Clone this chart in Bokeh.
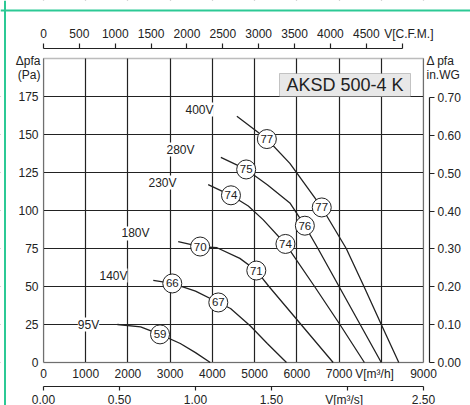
from bokeh.plotting import figure
from bokeh.models import (Range1d, LinearAxis, FixedTicker, NumeralTickFormatter,
                          BoxAnnotation, Label, LabelSet, ColumnDataSource, Span)
from bokeh.core.properties import value
from bokeh.embed import file_html
from bokeh.resources import INLINE

FONT = "Liberation Sans"
INK = "#222222"
GREEN = "#2cc995"
NB = "\u00a0"

# ---------------- data ----------------
flow_ticks = [0, 1000, 2000, 3000, 4000, 5000, 6000, 7000, 8000, 9000]      # m3/h
pressure_ticks = [0, 25, 50, 75, 100, 125, 150, 175]                          # Pa
cfm_ticks = [0, 500, 1000, 1500, 2000, 2500, 3000, 3500, 4000, 4500, 5000]    # C.F.M.
inwg_ticks = [0.0, 0.1, 0.2, 0.3, 0.4, 0.5, 0.6, 0.7]                         # in.WG
m3s_ticks = [0.0, 0.5, 1.0, 1.5, 2.0, 2.5]                                    # m3/s

curve_95V_x = [1750, 2300, 2760, 3240, 3600, 3950]
curve_95V_y = [25, 23.5, 18.5, 12.5, 6.5, 0]
curve_140V_x = [2600, 3050, 3600, 4140, 4430, 4900, 5300, 5755]
curve_140V_y = [54, 52, 47, 39.5, 35.5, 24, 12.5, 0]
curve_180V_x = [3190, 3710, 4110, 4650, 5040, 5340, 6100, 6860]
curve_180V_y = [79.5, 76.3, 75.5, 68.5, 60.5, 50, 25, 0]
curve_230V_x = [3900, 4440, 4850, 5200, 5730, 6420, 7020, 7600]
curve_230V_y = [117, 110, 103, 94, 78, 50, 25, 0]
curve_280V_x = [4200, 4800, 5300, 5835, 6190, 6500, 7000, 7500, 8000]
curve_280V_y = [135, 127, 117, 105, 90, 75, 50, 25, 0]
curve_400V_x = [4580, 5290, 5835, 6590, 7170, 7590, 8000, 8415]
curve_400V_y = [162, 147, 131, 102, 75, 50, 25, 0]

voltage_names = ["95V", "140V", "180V", "230V", "280V", "400V"]
voltage_label_x = [1066, 1658, 2179, 2818, 3245, 3695]
voltage_label_y = [25, 57.2, 84.9, 118.4, 140.1, 166.4]

db_text = ["59", "66", "67", "70", "71", "74", "74", "75", "76", "77", "77"]
db_x = [2760, 3050, 4140, 3710, 5040, 4440, 5730, 4800, 6190, 5290, 6590]
db_y = [18.5, 52, 39.5, 76.3, 60.5, 110, 78, 127, 90, 147, 102]

model_name = "AKSD 500-4 K"

M3H_PER_CFM = 1.699
PA_PER_INWG = 249.09
M3H_PER_M3S = 3600.0

# ---------------- layout geometry ----------------
W, H = 470, 405
PX_X = 380 / 9000.0          # px per m3/h
PX_Y = 1.52                  # px per Pa
ORIGIN_X, ORIGIN_Y = 43, 362 # pixel of (0 m3/h, 0 Pa) in the canvas (from top-left)
X_START = -ORIGIN_X / PX_X
X_END = (W - ORIGIN_X) / PX_X
Y_START = -(H - ORIGIN_Y) / PX_Y
Y_END = ORIGIN_Y / PX_Y
X_MAX, Y_MAX = 9000, 200

def px_to_y(py):   # canvas pixel row -> Pa
    return (ORIGIN_Y - py) / PX_Y

def px_to_x(px):   # canvas pixel column -> m3/h
    return (px - ORIGIN_X) / PX_X

p = figure(width=W, height=H,
           x_range=Range1d(X_START, X_END), y_range=Range1d(Y_START, Y_END),
           output_backend="svg", toolbar_location=None,
           min_border=0, min_border_left=0, min_border_right=0,
           min_border_top=0, min_border_bottom=0)
p.outline_line_color = None
p.background_fill_color = "white"
p.border_fill_color = "white"

p.extra_x_ranges = {"cfm": Range1d(X_START / M3H_PER_CFM, X_END / M3H_PER_CFM),
                    "m3s": Range1d(X_START / M3H_PER_M3S, X_END / M3H_PER_M3S)}
p.extra_y_ranges = {"inwg": Range1d(Y_START / PA_PER_INWG, Y_END / PA_PER_INWG)}

# grids
p.xgrid.ticker = FixedTicker(ticks=flow_ticks)
p.ygrid.ticker = FixedTicker(ticks=pressure_ticks)
for g in (p.xgrid, p.ygrid):
    g.grid_line_color = INK
    g.grid_line_width = 1.2

# white covers to trim grid lines to the chart box
for kw in (dict(right=0), dict(left=X_MAX), dict(bottom=Y_MAX), dict(top=0)):
    p.add_layout(BoxAnnotation(fill_color="white", fill_alpha=1, line_color=None,
                               level="underlay", **kw))
p.add_layout(BoxAnnotation(left=0, right=X_MAX, bottom=0, top=Y_MAX, level="underlay",
                           fill_alpha=0, line_color=INK, line_width=1.3))

def style_axis(ax, size="12px"):
    ax.major_label_text_font = FONT
    ax.major_label_text_font_size = size
    ax.major_label_text_color = INK
    ax.axis_line_color = INK
    ax.axis_line_width = 1.2
    ax.major_tick_line_color = INK
    ax.major_tick_line_width = 1.2
    ax.minor_tick_line_color = None
    ax.minor_tick_out = 0
    ax.minor_tick_in = 0
    ax.major_tick_in = 0

# bottom m3/h axis (labels only)
xa = p.xaxis[0]
style_axis(xa)
xa.fixed_location = 0
xa.ticker = FixedTicker(ticks=flow_ticks)
xa.axis_line_color = None
xa.major_tick_line_color = None
xa.major_tick_out = 0
xa.major_label_standoff = 4
xa.major_label_overrides = {8000: "V[m³/h]" + NB * 4}

# left Pa axis (labels only)
ya = p.yaxis[0]
style_axis(ya)
ya.fixed_location = 0
ya.ticker = FixedTicker(ticks=pressure_ticks)
ya.axis_line_color = None
ya.major_tick_line_color = None
ya.major_tick_out = 0
ya.major_label_standoff = 5

# top C.F.M. axis
top = LinearAxis(x_range_name="cfm", ticker=FixedTicker(ticks=cfm_ticks),
                 bounds=(0, 5000), fixed_location=px_to_y(48))
style_axis(top)
top.major_tick_out = 5
top.major_label_standoff = 3
top.major_label_overrides = {5000: NB * 4 + "V[C.F.M.]"}
p.add_layout(top, "above")

# right in.WG axis
right = LinearAxis(y_range_name="inwg", ticker=FixedTicker(ticks=inwg_ticks),
                   bounds=(0, 0.7), formatter=NumeralTickFormatter(format="0.00"),
                   fixed_location=px_to_x(429))
style_axis(right)
right.major_tick_out = 5
right.major_label_standoff = 3
p.add_layout(right, "right")

# bottom m3/s axis
bot2 = LinearAxis(x_range_name="m3s", ticker=FixedTicker(ticks=m3s_ticks),
                  bounds=(0, 2.5), formatter=NumeralTickFormatter(format="0.00"),
                  fixed_location=px_to_y(386))
style_axis(bot2)
bot2.major_tick_out = 4
bot2.major_label_standoff = 2
bot2.major_label_overrides = {2.0: "V[m³/s]" + NB * 2}
p.add_layout(bot2, "below")

# green frame lines
p.add_layout(Span(location=px_to_y(10), dimension="width", line_color=GREEN, line_width=2))
p.add_layout(Span(location=px_to_x(4.5), dimension="height", line_color=GREEN, line_width=2))

# model name box
p.add_layout(BoxAnnotation(left=px_to_x(279), right=px_to_x(410),
                           bottom=Y_MAX - 25, top=px_to_y(73),
                           fill_color="#e8e8e8", fill_alpha=1,
                           line_color="#555555", line_width=1))
p.add_layout(Label(x=px_to_x(344.5), y=px_to_y(84), text=model_name,
                   text_align="center", text_baseline="middle", text_font=FONT,
                   text_font_size="18px", text_color=INK))

# axis titles
for txt, cx, cy, al in [("Δpfa", 40, 60, "right"), ("(Pa)", 40, 74.5, "right"),
                        ("Δ pfa", 426, 60, "left"), ("in.WG", 426, 74, "left")]:
    p.add_layout(Label(x=px_to_x(cx), y=px_to_y(cy), text=txt, text_align=al,
                       text_baseline="middle", text_font=FONT,
                       text_font_size="12px", text_color=INK))

# fan curves
curves = [(curve_95V_x, curve_95V_y), (curve_140V_x, curve_140V_y),
          (curve_180V_x, curve_180V_y), (curve_230V_x, curve_230V_y),
          (curve_280V_x, curve_280V_y), (curve_400V_x, curve_400V_y)]
for cx, cy in curves:
    p.line(cx, cy, line_color=INK, line_width=1.3)

# voltage labels
vsrc = ColumnDataSource(dict(x=voltage_label_x, y=voltage_label_y, t=voltage_names))
p.add_layout(LabelSet(x="x", y="y", text="t", source=vsrc, text_align="center",
                      text_baseline="middle", text_font=value(FONT),
                      text_font_size="12px", text_color=INK,
                      background_fill_color="white", background_fill_alpha=1))

# sound level circles
dsrc = ColumnDataSource(dict(x=db_x, y=db_y, t=db_text))
p.scatter("x", "y", source=dsrc, size=19, fill_color="white",
          line_color=INK, line_width=1)
p.text("x", "y", text="t", source=dsrc, text_align="center",
       text_baseline="middle", text_font=value(FONT),
       text_font_size="11.5px", text_color=INK)

open("out.html", "w").write(file_html(p, INLINE))
